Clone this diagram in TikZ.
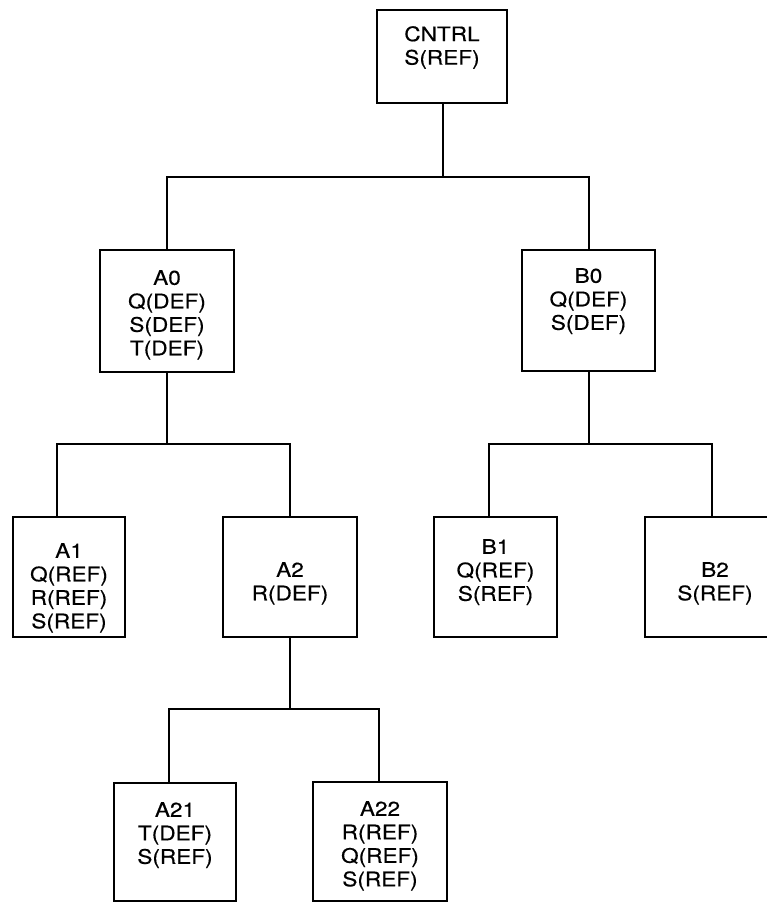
\documentclass[tikz,border=0pt]{standalone}
\usepackage{fontspec}
\setmainfont{TeX Gyre Heros}[FakeStretch=1.13, FakeBold=0.4]
\begin{document}
\begin{tikzpicture}[x=1pt,y=-1pt,
  box/.style={draw, line width=2.4pt, rectangle, anchor=north west,
              inner sep=0pt, outer sep=0pt},
  lbl/.style={anchor=north, inner sep=0pt, align=center,
              font={\fontsize{20}{23.5}\selectfont}},
  wire/.style={line width=2.4pt}]
\useasboundingbox (0,0) rectangle (767,903);

% boxes
\node[box, minimum width=130pt, minimum height=93pt]  (cntrl) at (377,10)  {};
\node[box, minimum width=134pt, minimum height=122pt] (a0)    at (100,250) {};
\node[box, minimum width=133pt, minimum height=121pt] (b0)    at (522,250) {};
\node[box, minimum width=112pt, minimum height=120pt] (a1)    at (13,517)  {};
\node[box, minimum width=134pt, minimum height=120pt] (a2)    at (223,517) {};
\node[box, minimum width=123pt, minimum height=120pt] (b1)    at (434,517) {};
\node[box, minimum width=140pt, minimum height=120pt] (b2)    at (645,517) {};
\node[box, minimum width=122pt, minimum height=118pt] (a21)   at (114,783) {};
\node[box, minimum width=134pt, minimum height=119pt] (a22)   at (313,782) {};

% box contents
\node[lbl] (cntrlT) at ([yshift=-16pt]cntrl.north) {CNTRL\\S(REF)};
\node[lbl] (a0T)    at ([yshift=-20pt]a0.north)    {A0\\Q(DEF)\\S(DEF)\\T(DEF)};
\node[lbl] (b0T)    at ([yshift=-18pt]b0.north)    {B0\\Q(DEF)\\S(DEF)};
\node[lbl] (a1T)    at ([yshift=-26pt]a1.north)    {A1\\Q(REF)\\R(REF)\\S(REF)};
\node[lbl] (a2T)    at ([yshift=-45pt]a2.north)    {A2\\R(DEF)};
\node[lbl] (b1T)    at ([yshift=-22pt]b1.north)    {B1\\Q(REF)\\S(REF)};
\node[lbl] (b2T)    at ([yshift=-45pt]b2.north)    {B2\\S(REF)};
\node[lbl] (a21T)   at ([yshift=-19pt]a21.north)   {A21\\T(DEF)\\S(REF)};
\node[lbl] (a22T)   at ([yshift=-19pt]a22.north)   {A22\\R(REF)\\Q(REF)\\S(REF)};

% junction points on the horizontal buses
\coordinate (jTop) at (443,177);
\coordinate (jA)   at (167,444);
\coordinate (jB)   at (589,444);
\coordinate (jA2)  at (290,709);

% connectors
\draw[wire] ([xshift=1pt]cntrl.south) -- (jTop);
\draw[wire] (a0.north) |- (jTop) -| ([xshift=0.5pt]b0.north);

\draw[wire] (a0.south) -- (jA);
\draw[wire] ([xshift=-12pt]a1.north) |- (jA) -| (a2.north);

\draw[wire] ([xshift=0.5pt]b0.south) -- (jB);
\draw[wire] ([xshift=-6.5pt]b1.north) |- (jB) -| ([xshift=-3pt]b2.north);

\draw[wire] (a2.south) -- (jA2);
\draw[wire] ([xshift=-6pt]a21.north) |- (jA2) -| ([xshift=-1pt]a22.north);
\end{tikzpicture}
\end{document}
